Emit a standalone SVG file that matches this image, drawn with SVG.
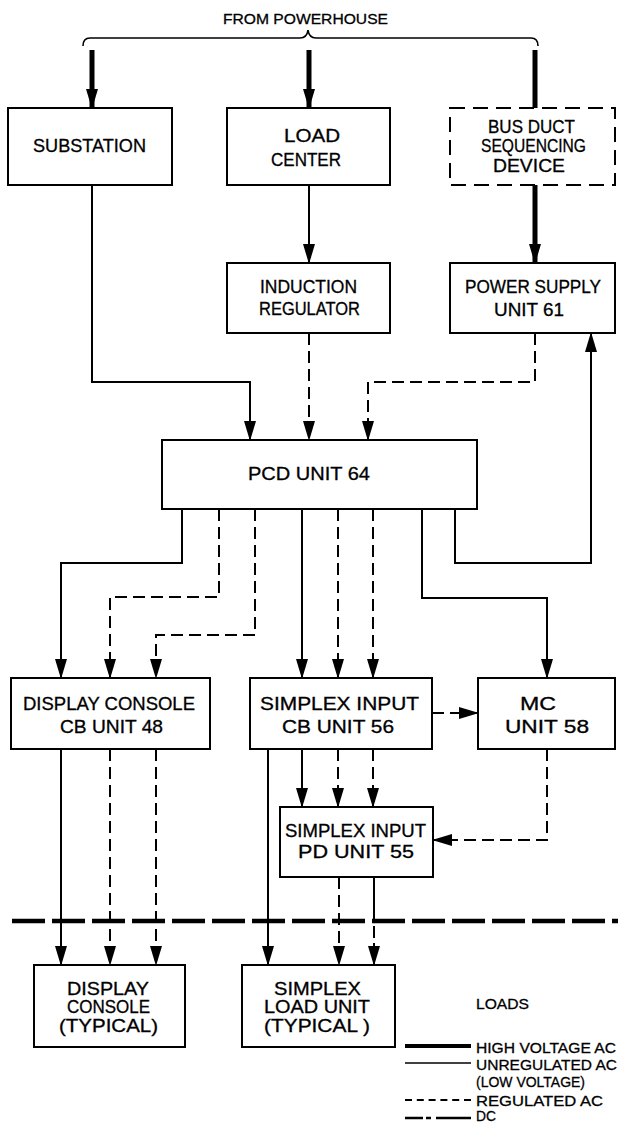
<svg xmlns="http://www.w3.org/2000/svg" width="618" height="1124" viewBox="0 0 618 1124">
<style>
  text { font-family: "Liberation Sans", Arial, sans-serif; fill: #000; stroke: #000; stroke-width: 0.3; }
  .t { font-size: 18px; }
  .s { font-size: 15px; }
  .box { fill: #fff; stroke: #000; stroke-width: 2; }
  .dbox { fill: #fff; stroke: #000; stroke-width: 2; stroke-dasharray: 15 8; }
  .hv { fill: none; stroke: #000; stroke-width: 5; }
  .ac { fill: none; stroke: #000; stroke-width: 2; }
  .rg { fill: none; stroke: #000; stroke-width: 2; stroke-dasharray: 12 6; }
  .arr { marker-end: url(#ah); }
</style>
<defs>
  <marker id="ah" markerUnits="userSpaceOnUse" markerWidth="20" markerHeight="12" viewBox="0 0 20 12" refX="19" refY="6" orient="auto">
    <path d="M0,0 L20,6 L0,12 Z" fill="#000"/>
  </marker>
</defs>
<rect width="618" height="1124" fill="#fff"/>

<g id="source">
  <text class="s" x="223" y="24" textLength="165" lengthAdjust="spacingAndGlyphs">FROM POWERHOUSE</text>
  <path d="M83,46 Q83,38 90,38 L300,38 Q307,38 308,30 Q309,38 316,38 L531,38 Q538,38 538,46" fill="none" stroke="#000" stroke-width="1.6"/>
</g>

<g id="connectors">
  <path class="hv arr" d="M92,50 V108"/>
  <path class="hv arr" d="M309,50 V108"/>
  <path class="hv" d="M535,50 V108"/>
  <path class="hv arr" d="M535,185 V263"/>
  <path class="ac arr" d="M92,185 V382 H250 V440"/>
  <path class="ac arr" d="M309,185 V263"/>
  <path class="rg arr" d="M309,333 V440"/>
  <path class="rg arr" d="M535,333 V382 H368 V440"/>
  <path class="ac arr" d="M455,509 V563 H591 V333"/>
  <path class="ac arr" d="M182,509 V563 H61 V678"/>
  <path class="rg arr" d="M219,509 V597 H110 V678"/>
  <path class="rg arr" d="M255,509 V635 H156 V678"/>
  <path class="ac arr" d="M302,509 V678"/>
  <path class="rg arr" d="M338,509 V678"/>
  <path class="rg arr" d="M373,509 V678"/>
  <path class="ac arr" d="M422,509 V598 H547 V678"/>
  <path class="rg arr" d="M432,713 H478"/>
  <path class="ac arr" d="M61,749 V965"/>
  <path class="rg arr" d="M110,749 V965"/>
  <path class="rg arr" d="M156,749 V965"/>
  <path class="ac arr" d="M268,749 V965"/>
  <path class="ac arr" d="M302,749 V807"/>
  <path class="rg arr" d="M338,749 V807"/>
  <path class="rg arr" d="M373,749 V807"/>
  <path class="rg arr" d="M547,749 V840 H433"/>
  <path class="rg arr" d="M339,877 V965"/>
  <path class="ac arr" d="M374,877 V965" stroke-dasharray="44 5 12 5 40"/>
  <path d="M12,921 H618" fill="none" stroke="#000" stroke-width="4.5" stroke-dasharray="33 7"/>
</g>

<g id="substation">
  <rect class="box" x="8" y="108" width="164" height="77"/>
  <text class="t" x="33" y="152" textLength="113" lengthAdjust="spacingAndGlyphs">SUBSTATION</text>
</g>
<g id="load-center">
  <rect class="box" x="227" y="108" width="163" height="77"/>
  <text class="t" x="284" y="142" textLength="56" lengthAdjust="spacingAndGlyphs">LOAD</text>
  <text class="t" x="271" y="166" textLength="70" lengthAdjust="spacingAndGlyphs">CENTER</text>
</g>
<g id="bus-duct">
  <rect class="dbox" x="450" y="108" width="165" height="77"/>
  <text class="t" x="488" y="133" textLength="87" lengthAdjust="spacingAndGlyphs">BUS DUCT</text>
  <text class="t" x="481" y="152" textLength="105" lengthAdjust="spacingAndGlyphs">SEQUENCING</text>
  <text class="t" x="493" y="172" textLength="72" lengthAdjust="spacingAndGlyphs">DEVICE</text>
</g>
<g id="induction-regulator">
  <rect class="box" x="227" y="263" width="163" height="70"/>
  <text class="t" x="260" y="293" textLength="97" lengthAdjust="spacingAndGlyphs">INDUCTION</text>
  <text class="t" x="259" y="315" textLength="101" lengthAdjust="spacingAndGlyphs">REGULATOR</text>
</g>
<g id="power-supply">
  <rect class="box" x="450" y="263" width="165" height="70"/>
  <text class="t" x="465" y="293" textLength="136" lengthAdjust="spacingAndGlyphs">POWER SUPPLY</text>
  <text class="t" x="494" y="316" textLength="70" lengthAdjust="spacingAndGlyphs">UNIT 61</text>
</g>
<g id="pcd-unit">
  <rect class="box" x="162" y="440" width="315" height="69"/>
  <text class="t" x="248" y="480" textLength="122" lengthAdjust="spacingAndGlyphs">PCD UNIT 64</text>
</g>
<g id="display-console-cb">
  <rect class="box" x="11" y="678" width="199" height="71"/>
  <text class="t" x="23" y="710" textLength="172" lengthAdjust="spacingAndGlyphs">DISPLAY CONSOLE</text>
  <text class="t" x="60" y="733" textLength="103" lengthAdjust="spacingAndGlyphs">CB UNIT 48</text>
</g>
<g id="simplex-input-cb">
  <rect class="box" x="250" y="678" width="182" height="71"/>
  <text class="t" x="260" y="710" textLength="159" lengthAdjust="spacingAndGlyphs">SIMPLEX INPUT</text>
  <text class="t" x="282" y="733" textLength="112" lengthAdjust="spacingAndGlyphs">CB UNIT 56</text>
</g>
<g id="mc-unit">
  <rect class="box" x="478" y="678" width="137" height="71"/>
  <text class="t" x="520" y="710" textLength="36" lengthAdjust="spacingAndGlyphs">MC</text>
  <text class="t" x="505" y="733" textLength="84" lengthAdjust="spacingAndGlyphs">UNIT 58</text>
</g>
<g id="simplex-input-pd">
  <rect class="box" x="280" y="807" width="153" height="70"/>
  <text class="t" x="285" y="837" textLength="141" lengthAdjust="spacingAndGlyphs">SIMPLEX INPUT</text>
  <text class="t" x="298" y="858" textLength="116" lengthAdjust="spacingAndGlyphs">PD UNIT 55</text>
</g>
<g id="display-console">
  <rect class="box" x="34" y="965" width="151" height="82"/>
  <text class="t" x="67" y="995" textLength="82" lengthAdjust="spacingAndGlyphs">DISPLAY</text>
  <text class="t" x="67" y="1013" textLength="83" lengthAdjust="spacingAndGlyphs">CONSOLE</text>
  <text class="t" x="59" y="1032" textLength="99" lengthAdjust="spacingAndGlyphs">(TYPICAL)</text>
</g>
<g id="simplex-load-unit">
  <rect class="box" x="242" y="965" width="153" height="82"/>
  <text class="t" x="274" y="995" textLength="87" lengthAdjust="spacingAndGlyphs">SIMPLEX</text>
  <text class="t" x="264" y="1013" textLength="106" lengthAdjust="spacingAndGlyphs">LOAD UNIT</text>
  <text class="t" x="264" y="1032" textLength="106" lengthAdjust="spacingAndGlyphs">(TYPICAL )</text>
</g>

<g id="legend">
  <text class="s" x="476" y="1009" textLength="53" lengthAdjust="spacingAndGlyphs">LOADS</text>
  <path d="M405,1046 H471" stroke="#000" stroke-width="4" fill="none"/>
  <text class="s" x="476" y="1053" textLength="140" lengthAdjust="spacingAndGlyphs">HIGH VOLTAGE AC</text>
  <path d="M405,1063 H471" stroke="#000" stroke-width="1.6" fill="none"/>
  <text class="s" x="476" y="1070" textLength="141" lengthAdjust="spacingAndGlyphs">UNREGULATED AC</text>
  <text class="s" x="476" y="1087" textLength="109" lengthAdjust="spacingAndGlyphs">(LOW VOLTAGE)</text>
  <path d="M405,1100 H471" stroke="#000" stroke-width="2" fill="none" stroke-dasharray="7 4.8"/>
  <text class="s" x="476" y="1106" textLength="127" lengthAdjust="spacingAndGlyphs">REGULATED AC</text>
  <path d="M405,1118 H471" stroke="#000" stroke-width="2.5" fill="none" stroke-dasharray="18 3 5 5 38"/>
  <text class="s" x="476" y="1121" textLength="20" lengthAdjust="spacingAndGlyphs">DC</text>
</g>
</svg>
